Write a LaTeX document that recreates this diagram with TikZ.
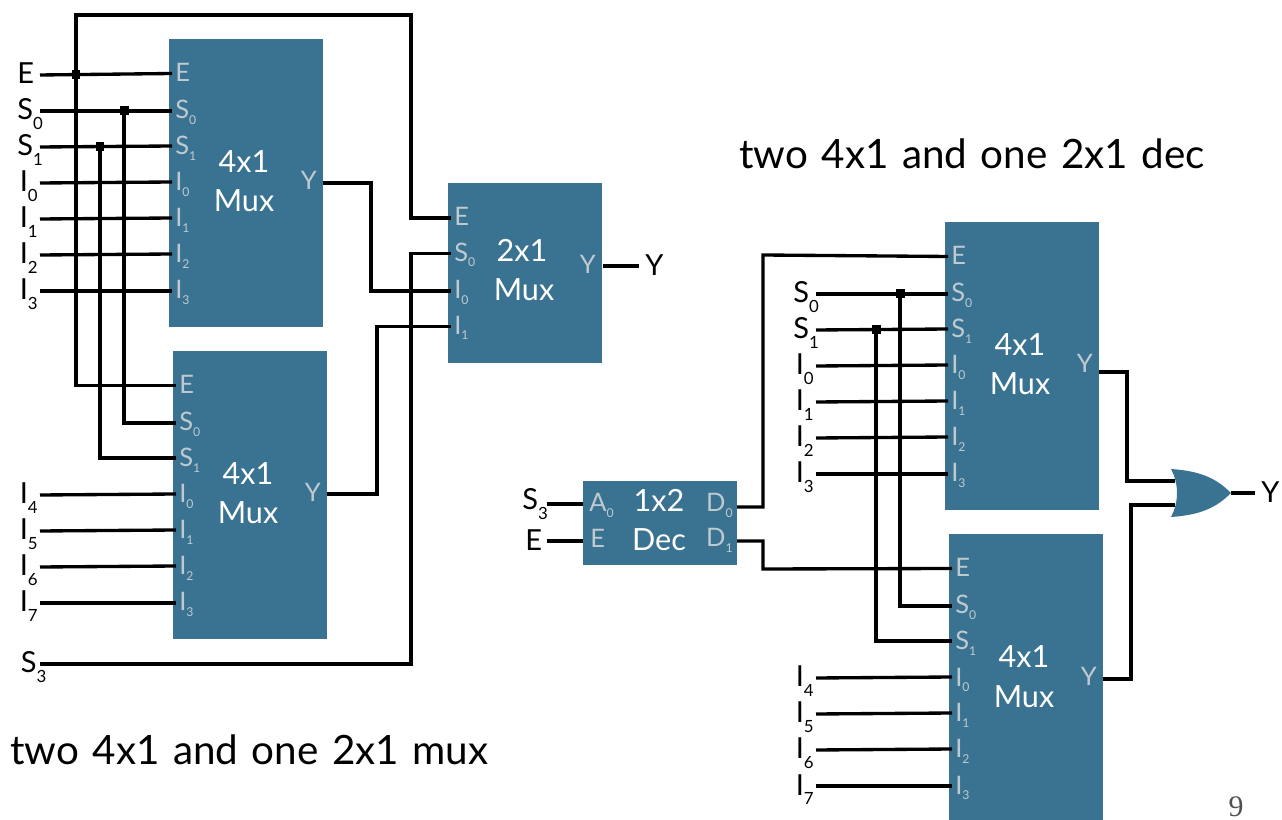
\documentclass[tikz,border=0pt]{standalone}
\usepackage{fontspec}
\setmainfont{Lato}
\newfontfamily\pagefont{Liberation Serif}
\newfontfamily\headfont[WordSpace=1.3]{Lato}
\usepackage{tikz}
\usetikzlibrary{positioning}
\definecolor{bluMux}{RGB}{58, 115, 145}
\definecolor{grigioPin}{RGB}{190, 202, 208}
\definecolor{grigioPage}{RGB}{80, 80, 80}

\tikzset{
  wire/.style={black, line width=1.9pt},
  junction/.style={rectangle, fill=black, minimum size=0.18cm, inner sep=0pt},
  muxbox/.style={rectangle, fill=bluMux, anchor=north west, minimum width=3.08cm, inner sep=0pt},
  blocktext/.style={white, inner sep=0pt, anchor=base, font=\fontsize{17.4}{19}\selectfont},
  pinlabel/.style={grigioPin, inner sep=0pt, anchor=base west, font=\fontsize{14.5}{16}\selectfont},
  outlabel/.style={grigioPin, inner sep=0pt, anchor=base east, font=\fontsize{14.5}{16}\selectfont},
  wirelabel/.style={black, inner sep=0pt, anchor=base west, font=\fontsize{16.5}{18}\selectfont},
  headline/.style={black, inner sep=0pt, anchor=base west, font=\headfont\fontsize{23}{25}\selectfont}
}

\newcommand{\lowsub}[1]{\raisebox{-0.68ex}{\scalebox{0.58}{#1}}}
\newcommand{\pinsub}[1]{\raisebox{-0.4ex}{\scalebox{0.48}{#1}}}
\newcommand{\tallI}{\kern0.05cm I}

% 4x1 block: name, left, top
\newcommand{\fourmux}[3]{
  \node[muxbox, minimum height=5.76cm] (#1) at (#2,#3) {};
  \node[blocktext] (#1-a) at (#2+75,#3+134) {4x1};
  \node[blocktext] (#1-b) at (#2+75,#3+173) {Mux};
  \foreach \pin/\off/\txt/\base in {e/34.5/E/43, s0/72/S\pinsub{0}/80, s1/107/S\pinsub{1}/116, i0/143/I\pinsub{0}/152, i1/179/I\pinsub{1}/188, i2/215/I\pinsub{2}/224, i3/252/I\pinsub{3}/260} {
    \coordinate (#1-\pin) at (#2+3,#3+\off);
    \node[pinlabel] (#1-\pin-txt) at (#2+6,#3+\base) {\txt};
  }
  \node[outlabel] (#1-y-txt) at (#2+148,#3+151) {Y};
}

% label of a line entering from outside: name, text, left, wire y
\newcommand{\inline}[4]{
  \node[wirelabel] (#1) at (#3,#4+9) {#2};
  \coordinate (#1-w) at (#3+23,#4);
}

\begin{document}
\begin{tikzpicture}[x=0.02cm, y=-0.02cm]
  \useasboundingbox (0,0) rectangle (1282,820);

  % Blocks
  \fourmux{muxA}{169}{39}
  \fourmux{muxB}{173}{351}
  \fourmux{muxD}{945}{222}
  \fourmux{muxE}{949}{534}

  \node[muxbox, minimum height=3.6cm] (muxC) at (448,183) {};
  \node[blocktext] (muxC-a) at (522,262) {2x1};
  \node[blocktext] (muxC-b) at (524,301) {Mux};
  \foreach \pin/\off/\txt in {e/218/E, s0/253.5/S\pinsub{0}, i0/291/I\pinsub{0}, i1/326.5/I\pinsub{1}} {
    \coordinate (muxC-\pin) at (451,\off);
    \node[pinlabel] (muxC-\pin-txt) at (454,\off+8) {\txt};
  }
  \node[outlabel] (muxC-y-txt) at (596,274) {Y};

  \node[muxbox, minimum height=1.68cm] (dec) at (583,481) {};
  \node[blocktext] (dec-a) at (659,512) {1x2};
  \node[blocktext] (dec-b) at (659,551) {Dec};
  \node[pinlabel] (dec-a0-txt) at (589,512) {A\pinsub{0}};
  \node[pinlabel] (dec-e-txt) at (590,548) {E};
  \node[outlabel] (dec-d0-txt) at (733,512) {D\pinsub{0}};
  \node[outlabel] (dec-d1-txt) at (733,547) {D\pinsub{1}};
  \coordinate (dec-a0) at (583,504);
  \coordinate (dec-en) at (583,541);
  \coordinate (dec-d0) at (737,507);
  \coordinate (dec-d1) at (737,541);

  % Block outputs
  \coordinate (muxA-y) at (323,183);
  \coordinate (muxB-y) at (327,494);
  \coordinate (muxC-y) at (603,266);
  \coordinate (muxD-y) at (1099,372);
  \coordinate (muxE-y) at (1103,679);

  % Or gate
  \coordinate (orA) at (1175,481);
  \coordinate (orB) at (1175,505);
  \coordinate (orY) at (1231,493);
  \fill[bluMux] (1171,469) .. controls (1200,471) and (1216,478) .. (orY)
    .. controls (1216,508) and (1200,515) .. (1171,517)
    .. controls (1179,502) and (1179,484) .. (1171,469) -- cycle;

  % Left inputs
  \inline{lE}{E}{17}{75}
  \inline{lSa}{S\lowsub{0}}{17}{111}
  \inline{lSb}{S\lowsub{1}}{17}{147}
  \inline{lIa}{\tallI\lowsub{0}}{17}{183}
  \inline{lIb}{\tallI\lowsub{1}}{17}{219}
  \inline{lIc}{\tallI\lowsub{2}}{17}{255}
  \inline{lId}{\tallI\lowsub{3}}{17}{291}
  \inline{lIe}{\tallI\lowsub{4}}{17}{495}
  \inline{lIf}{\tallI\lowsub{5}}{17}{531}
  \inline{lIg}{\tallI\lowsub{6}}{17}{567}
  \inline{lIh}{\tallI\lowsub{7}}{17}{603}
  \inline{lSd}{\kern0.07cm S\lowsub{3}}{17}{664}
  \foreach \from/\to in {lE/muxA-e, lSa/muxA-s0, lSb/muxA-s1, lIa/muxA-i0, lIb/muxA-i1, lIc/muxA-i2, lId/muxA-i3, lIe/muxB-i0, lIf/muxB-i1, lIg/muxB-i2, lIh/muxB-i3}
    \draw[wire] (\from-w) -- (\to);

  % Left junctions
  \node[junction] (jE) at (76,75) {};
  \node[junction] (jSa) at (124,111) {};
  \node[junction] (jSb) at (100,147) {};
  \coordinate (cornerE) at (411,15);
  \draw[wire] (muxC-e) -| (cornerE) -| (jE.center) |- (muxB-e);
  \draw[wire] (jSa.center) |- (muxB-s0);
  \draw[wire] (jSb.center) |- (muxB-s1);

  % Left selects and outputs
  \coordinate (cornerS) at (411,664);
  \draw[wire] (lSd-w) -- (cornerS) |- (muxC-s0);
  \coordinate (midA) at (371,291);
  \coordinate (midB) at (377,326.5);
  \draw[wire] (muxA-y) -| (midA) -- (muxC-i0);
  \draw[wire] (muxB-y) -| (midB) -- (muxC-i1);
  \node[wirelabel] (outC) at (645,276) {Y};
  \coordinate (outC-w) at (639,266);
  \draw[wire] (muxC-y) -- (outC-w);

  % Right inputs
  \inline{rSa}{S\lowsub{0}}{793}{294}
  \inline{rSb}{S\lowsub{1}}{793}{330}
  \inline{rIa}{\tallI\lowsub{0}}{793}{366}
  \inline{rIb}{\tallI\lowsub{1}}{793}{402}
  \inline{rIc}{\tallI\lowsub{2}}{793}{438}
  \inline{rId}{\tallI\lowsub{3}}{793}{474}
  \inline{rIe}{\tallI\lowsub{4}}{793}{678}
  \inline{rIf}{\tallI\lowsub{5}}{793}{714}
  \inline{rIg}{\tallI\lowsub{6}}{793}{750}
  \inline{rIh}{\tallI\lowsub{7}}{793}{786}
  \foreach \from/\to in {rSa/muxD-s0, rSb/muxD-s1, rIa/muxD-i0, rIb/muxD-i1, rIc/muxD-i2, rId/muxD-i3, rIe/muxE-i0, rIf/muxE-i1, rIg/muxE-i2, rIh/muxE-i3}
    \draw[wire] (\from-w) -- (\to);

  % Right junctions
  \node[junction] (jRa) at (900,294) {};
  \node[junction] (jRb) at (876,330) {};
  \draw[wire] (jRa.center) |- (muxE-s0);
  \draw[wire] (jRb.center) |- (muxE-s1);

  % Decoder lines
  \node[wirelabel] (dS) at (522,510) {S\lowsub{3}};
  \node[wirelabel] (dE) at (525,551) {E};
  \coordinate (dS-w) at (547,504);
  \coordinate (dE-w) at (547,541);
  \draw[wire] (dS-w) -- (dec-a0);
  \draw[wire] (dE-w) -- (dec-en);
  \coordinate (kneeA) at (763,255);
  \coordinate (kneeB) at (763,569);
  \draw[wire] (dec-d0) -| (kneeA) -- (muxD-e);
  \draw[wire] (dec-d1) -| (kneeB) -- (muxE-e);

  % Or gate lines
  \coordinate (kneeC) at (1127,481);
  \coordinate (kneeD) at (1131,505);
  \draw[wire] (muxD-y) -| (kneeC) -- (orA);
  \draw[wire] (muxE-y) -| (kneeD) -- (orB);
  \node[wirelabel] (outG) at (1261,503) {Y};
  \coordinate (outG-w) at (1255,493);
  \draw[wire] (orY) -- (outG-w);

  % Titles
  \node[headline] (titleA) at (10,765) {two 4x1 and one 2x1 mux};
  \node[headline] (titleB) at (739,169) {two 4x1 and one 2x1 dec};
  \node[grigioPage, inner sep=0pt, anchor=base, font=\pagefont\fontsize{17}{19}\selectfont] (page) at (1236,816) {9};
\end{tikzpicture}
\end{document}
